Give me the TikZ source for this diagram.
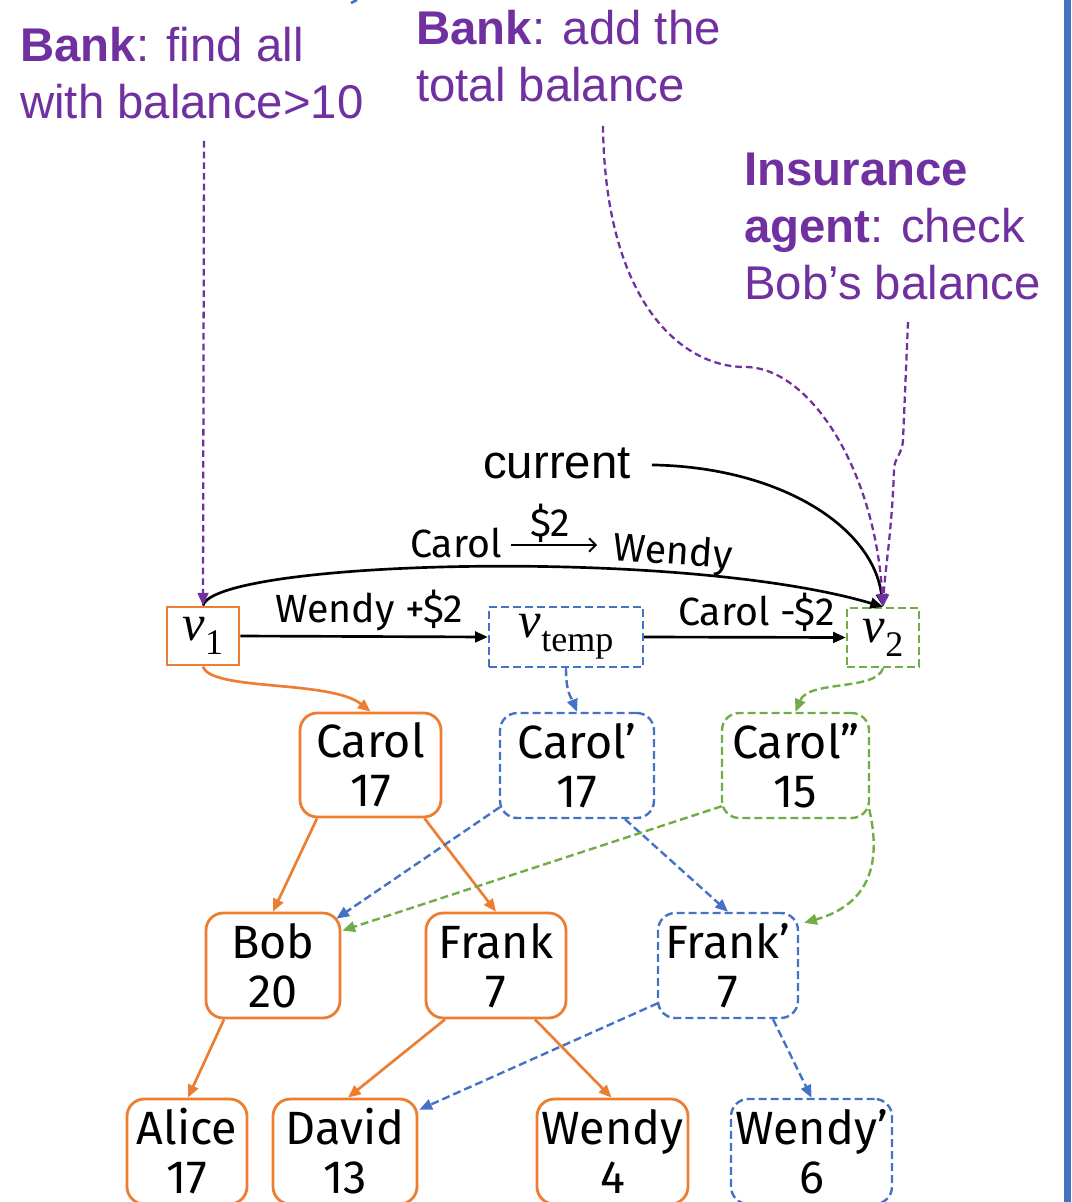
\documentclass[tikz,border=0pt]{standalone}
\usepackage{fontspec}
\setmainfont{Liberation Sans}
\newfontfamily\handfont{Fira Sans}
\newfontfamily\serifv{Liberation Serif}
\usetikzlibrary{arrows.meta,calc}
\definecolor{korange}{HTML}{ED7D31}
\definecolor{kblue}{HTML}{4472C4}
\definecolor{kgreen}{HTML}{70AD47}
\definecolor{kpurple}{HTML}{7030A0}
\newcommand{\vername}[1]{{\itshape v}\raisebox{-0.28em}{\fontsize{27}{28}\selectfont #1}}
\begin{document}
\begin{tikzpicture}[x=0.75pt,y=-0.75pt,
  arr/.style={-{Triangle[length=9.5pt,width=8pt]}},
  sz/.style 2 args={minimum width=#1*0.75pt, minimum height=#2*0.75pt},
  acct/.style={draw, rounded corners=13pt, inner sep=0pt, align=center,
    text=black, font=\handfont\fontsize{35}{36.75}\selectfont},
  oldnode/.style={acct, draw=korange, line width=2.1pt},
  bluenode/.style={acct, draw=kblue, line width=1.8pt, dash pattern=on 6pt off 3pt},
  greennode/.style={acct, draw=kgreen, line width=1.8pt, dash pattern=on 6pt off 3pt},
  version/.style={draw, inner sep=0pt, text=black, font=\serifv\fontsize{38}{40}\selectfont},
  purptext/.style={inner sep=0pt, align=left, text=kpurple,
    font=\fontsize{35.5}{42.5}\selectfont},
  lbl/.style={inner sep=0pt, text=black, font=\handfont\fontsize{29.5}{31}\selectfont},
  oldedge/.style={korange, line width=2pt, arr},
  blueedge/.style={kblue, line width=1.8pt, dash pattern=on 6pt off 3pt, arr},
  greenedge/.style={kgreen, line width=1.8pt, dash pattern=on 6pt off 3pt, arr},
  purpedge/.style={kpurple, line width=1.7pt, dash pattern=on 5pt off 3pt, arr},
  blackedge/.style={black, line width=2pt, arr}]
\useasboundingbox (0,0) rectangle (1071,1202);

% frame edge on the right
\fill[kblue] (1064,0) rectangle (1071,1202);
\draw[kblue, line width=2pt] (351,3) -- (357,0);

% requests
\node[purptext, anchor=north west] (bankA) at (20,27)
  {\textbf{Bank}: find all\\with balance>10};
\node[purptext, anchor=north west] (bankB) at (416,10)
  {\textbf{Bank}: add the\\total balance};
\node[purptext, anchor=north west] (ins) at (744,153)
  {\textbf{Insurance}\\\textbf{agent}: check\\Bob’s balance};
\node[inner sep=0pt, anchor=base west, font=\fontsize{35.5}{42}\selectfont] (cur) at (483,478) {current};

% versions
\node[version, draw=korange, line width=2.1pt, sz={72}{58}] (v1) at (203,636) {\vername{1}};
\node[version, draw=kblue, line width=1.8pt, dash pattern=on 6pt off 3pt, sz={154}{60}] (vt) at (566,637) {\vername{temp}};
\node[version, draw=kgreen, line width=1.8pt, dash pattern=on 6pt off 3pt, sz={72}{59}] (v2) at (883,637.5) {\vername{2}};

% account trees
\node[oldnode, sz={141}{104}] (carol) at (370.5,765) {Carol\\17};
\node[bluenode, sz={154}{105}] (carolp) at (577,765.5) {Carol’\\17};
\node[greennode, sz={147}{105}] (carolpp) at (795.5,765.5) {Carol”\\15};
\node[oldnode, sz={134}{105}] (bob) at (273,965.5) {Bob\\20};
\node[oldnode, sz={140}{105}] (frank) at (496,965.5) {Frank\\7};
\node[bluenode, sz={140}{105}] (frankp) at (728,965.5) {Frank’\\7};
\node[oldnode, sz={120}{105}] (alice) at (187,1151.5) {Alice\\17};
\node[oldnode, sz={144}{105}] (david) at (345,1151.5) {David\\13};
\node[oldnode, sz={151}{105}] (wendy) at (612.5,1151.5) {Wendy\\4};
\node[bluenode, sz={161}{105}] (wendyp) at (811.5,1151.5) {Wendy’\\6};

% transaction labels
\node[lbl, anchor=base west] (lw2) at (275,622) {Wendy +\$2};
\node[lbl, anchor=base west] (lc2) at (678,625) {Carol -\$2};
\node[lbl, anchor=base west] (tcarol) at (410,557) {Carol};
\node[lbl, anchor=base] (tamt) at (550,536) {\$2};
\node[lbl, anchor=base west, rotate=-4] (twendy) at (612,560) {Wendy};
\coordinate (ta) at (511,545);
\coordinate (tb) at (597,545);
\draw[line width=1.4pt, -{Straight Barb[length=5pt,width=10pt]}] (ta) -- (tb);

% version edges
\draw[blackedge] (v1.east) -- (vt.west);
\draw[blackedge] (vt.east) -- (v2.west);
\draw[blackedge] (v1.north) .. controls +(12,-45) and +(-203,-60) .. (v2.north);
\draw[blackedge] ($(cur.east)+(21,2)$) .. controls +(128,2) and +(-10,-80) .. (v2.north);

% requests pointing at versions
\draw[purpedge] ($(bankA.south west)+(184,22)$) -- (v1.north);
\draw[purpedge] ($(bankB.south west)+(187,24)$) .. controls (605,300) and (680,367) .. (745,367)
  .. controls (810,367) and (875,470) .. (v2.north);
\draw[purpedge] ($(ins.south west)+(164,22)$) -- (903,440) .. controls (902,455) and (894,458) .. (894,470)
  .. controls (892,530) and (885,570) .. (v2.north);

% roots
\draw[oldedge] (v1.south) .. controls +(7,25) and +(-40,-32) .. (carol.north);
\draw[blueedge] (vt.south) .. controls +(0,25) and +(-6,-15) .. (carolp.north);
\draw[greenedge] (v2.south) .. controls +(-7,23) and +(13,-32) .. (carolpp.north);

% original tree
\draw[oldedge] ($(carol.south)+(-53.5,0)$) -- (bob.north);
\draw[oldedge] ($(carol.south)+(54,0)$) -- (frank.north);
\draw[oldedge] ($(bob.south)+(-49,0)$) -- ($(alice.north)+(1,0)$);
\draw[oldedge] ($(frank.south)+(-51,0)$) -- ($(david.north)+(3,0)$);
\draw[oldedge] ($(frank.south)+(39,0)$) -- ($(wendy.north)+(-1,0)$);

% copied paths
\draw[blueedge] ($(carolp.south west)+(1,-12)$) -- ($(bob.north east)+(-5,7)$);
\draw[blueedge] ($(carolp.south)+(48,0)$) -- (frankp.north);
\draw[blueedge] ($(frankp.south west)+(1,-16)$) -- ($(david.north east)+(1,12)$);
\draw[blueedge] ($(frankp.south)+(45,0)$) -- (wendyp.north);
\draw[greenedge] ($(carolpp.south west)+(1,-13)$) -- ($(bob.north east)+(1,19)$);
\draw[greenedge] ($(carolpp.south east)+(-1,-10)$) .. controls +(12,52) and +(67,-19) .. ($(frankp.north east)+(5,11)$);
\end{tikzpicture}
\end{document}
